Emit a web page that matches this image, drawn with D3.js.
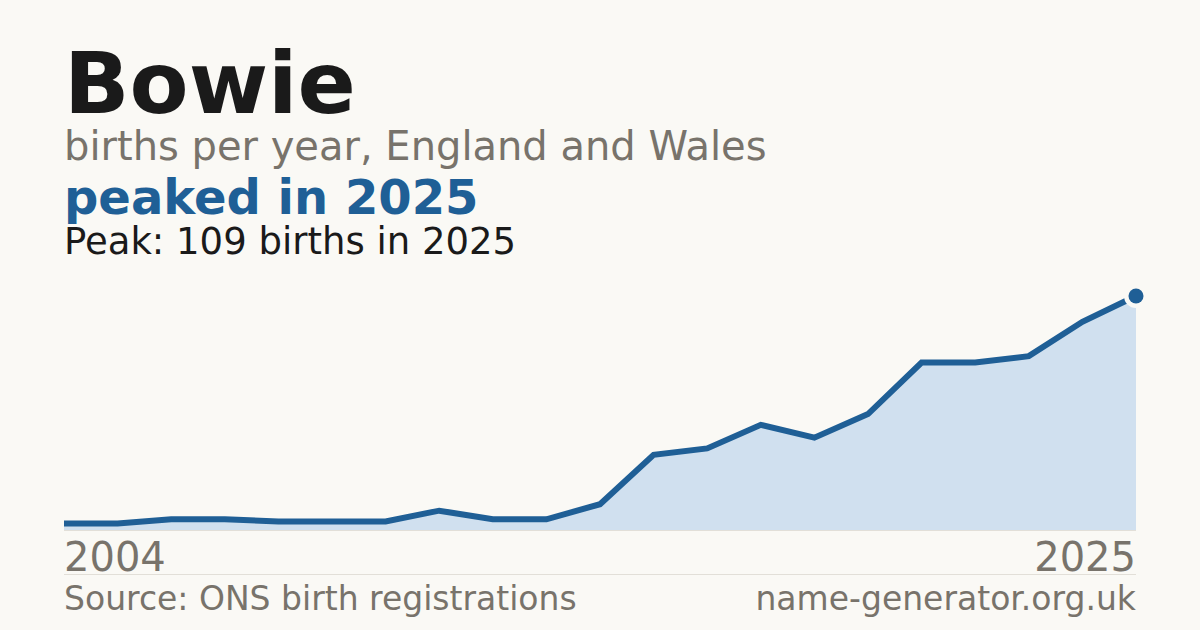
<!DOCTYPE html>
<html>
<head>
<meta charset="utf-8">
<script src="https://cdn.jsdelivr.net/npm/d3@7"></script>
<style>
  html, body { margin: 0; padding: 0; background: #faf9f5; }
  svg { display: block; }
</style>
</head>
<body>
<svg id="chart" width="1200" height="630"></svg>
<script>
// ---- data ----
const years = [2004, 2005, 2006, 2007, 2008, 2009, 2010, 2011, 2012, 2013, 2014,
               2015, 2016, 2017, 2018, 2019, 2021, 2022, 2023, 2024, 2025];
const births = [3, 3, 5, 5, 4, 4, 4, 9, 5, 5, 12,
                35, 38, 49, 43, 54, 78, 78, 81, 97, 109];
const axisLabels = ["2004", "2025"];
const nameTitle = "Bowie";
const subtitle = "births per year, England and Wales";
const headline = "peaked in 2025";
const peakNote = "Peak: 109 births in 2025";
const sourceText = "Source: ONS birth registrations";
const siteText = "name-generator.org.uk";

// ---- layout ----
const W = 1200, H = 630;
const plotL = 64, plotR = 1136, plotT = 296, plotB = 530;
const font = "'DejaVu Sans', sans-serif";
const blue = "#1f5f96";
const grey = "#78736b";
const bg = "#faf9f5";

const svg = d3.select("#chart");
svg.append("rect").attr("width", W).attr("height", H).attr("fill", bg);

const data = years.map((yr, i) => ({ year: String(yr), value: births[i] }));

const x = d3.scalePoint().domain(data.map(d => d.year)).range([plotL, plotR]);
const y = d3.scaleLinear().domain([0, d3.max(births)]).range([plotB, plotT]);

// text
svg.append("text").attr("x", 64).attr("y", 113)
  .attr("font-family", font).attr("font-weight", "bold").attr("font-size", 86)
  .attr("fill", "#1a1a1a").text(nameTitle);
svg.append("text").attr("x", 64).attr("y", 160)
  .attr("font-family", font).attr("font-size", 40)
  .attr("fill", grey).text(subtitle);
svg.append("text").attr("x", 64).attr("y", 214)
  .attr("font-family", font).attr("font-weight", "bold").attr("font-size", 48)
  .attr("fill", blue).text(headline);
svg.append("text").attr("x", 64).attr("y", 254)
  .attr("font-family", font).attr("font-size", 37)
  .attr("fill", "#1a1a1a").text(peakNote);

// baseline
svg.append("line").attr("x1", plotL).attr("x2", plotR).attr("y1", plotB + 0.5).attr("y2", plotB + 0.5)
  .attr("stroke", "#e2dfd8").attr("stroke-width", 1);

// area
const area = d3.area().x(d => x(d.year)).y0(plotB).y1(d => y(d.value));
svg.append("path").datum(data).attr("d", area).attr("fill", "#d0e0ef");

// line
const line = d3.line().x(d => x(d.year)).y(d => y(d.value));
svg.append("path").datum(data).attr("d", line)
  .attr("fill", "none").attr("stroke", blue).attr("stroke-width", 6)
  .attr("stroke-linejoin", "miter").attr("stroke-linecap", "butt");

// peak dot with halo
const peak = data[data.length - 1];
svg.append("circle").attr("cx", x(peak.year)).attr("cy", y(peak.value)).attr("r", 12)
  .attr("fill", bg);
svg.append("circle").attr("cx", x(peak.year)).attr("cy", y(peak.value)).attr("r", 7.5)
  .attr("fill", blue);

// axis labels
svg.append("text").attr("x", plotL).attr("y", 571)
  .attr("font-family", font).attr("font-size", 40).attr("fill", grey).text(axisLabels[0]);
svg.append("text").attr("x", plotR).attr("y", 571).attr("text-anchor", "end")
  .attr("font-family", font).attr("font-size", 40).attr("fill", grey).text(axisLabels[1]);

// separator
svg.append("line").attr("x1", plotL).attr("x2", plotR).attr("y1", 574.5).attr("y2", 574.5)
  .attr("stroke", "#e2dfd8").attr("stroke-width", 1);

// footer
svg.append("text").attr("x", plotL).attr("y", 610)
  .attr("font-family", font).attr("font-size", 33).attr("fill", grey).text(sourceText);
svg.append("text").attr("x", plotR).attr("y", 610).attr("text-anchor", "end")
  .attr("font-family", font).attr("font-size", 33).attr("fill", grey).text(siteText);
</script>
</body>
</html>
